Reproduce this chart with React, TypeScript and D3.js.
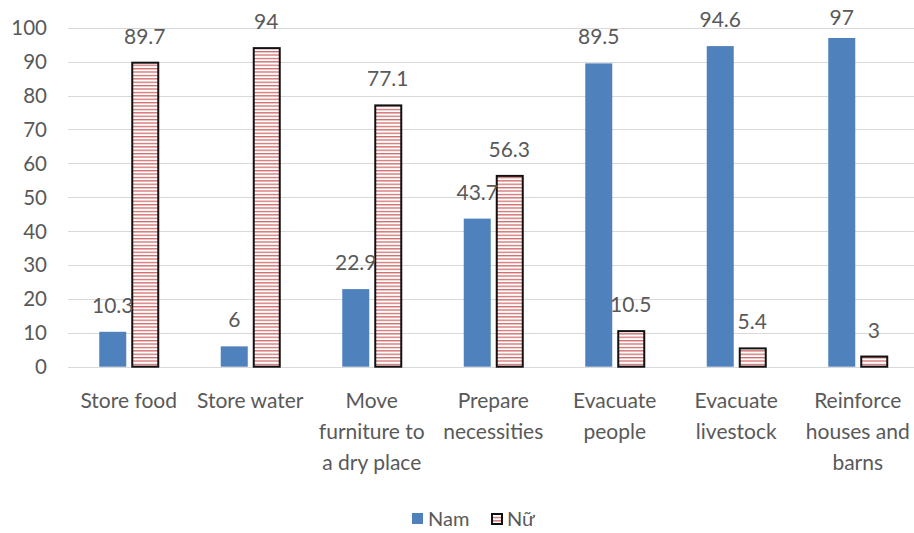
import React, { useEffect, useRef } from 'react';
import * as d3 from 'd3';

// categories (multi-line labels split with |)
const categories = [
  'Store food',
  'Store water',
  'Move|furniture to|a dry place',
  'Prepare|necessities',
  'Evacuate|people',
  'Evacuate|livestock',
  'Reinforce|houses and|barns',
];
const namValues = [10.3, 6, 22.9, 43.7, 89.5, 94.6, 97];
const nuValues = [89.7, 94, 77.1, 56.3, 10.5, 5.4, 3];
const yTicks = [0, 10, 20, 30, 40, 50, 60, 70, 80, 90, 100];
const seriesNames = ['Nam', 'Nữ'];

const width = 914;
const height = 533;
const font = 'Lato, "Open Sans", sans-serif';
const textColor = '#595959';

function Chart() {
  const ref = useRef<SVGSVGElement>(null);

  useEffect(() => {
    if (!ref.current) return;
    const svg = d3.select(ref.current);
    svg.selectAll('*').remove();

    const left = 68;
    const bandW = 121.5;
    const x = d3.scaleBand<number>()
      .domain(d3.range(categories.length))
      .range([left, left + bandW * categories.length])
      .paddingInner(0)
      .paddingOuter(0);
    const y = d3.scaleLinear().domain([0, 100]).range([366.7, 27.8]);

    const defs = svg.append('defs');
    const pat = defs.append('pattern')
      .attr('id', 'hatch')
      .attr('patternUnits', 'userSpaceOnUse')
      .attr('width', 8)
      .attr('height', 3.4);
    pat.append('rect').attr('width', 8).attr('height', 3.4).attr('fill', '#fff');
    pat.append('rect').attr('y', 0).attr('width', 8).attr('height', 1.3).attr('fill', '#d36a6a');

    // gridlines
    svg.append('g')
      .selectAll('line')
      .data(yTicks)
      .enter()
      .append('line')
      .attr('x1', left)
      .attr('x2', width)
      .attr('y1', (d) => Math.round(y(d)) + 0.5)
      .attr('y2', (d) => Math.round(y(d)) + 0.5)
      .style('stroke', '#d9d9d9')
      .style('stroke-width', 1);

    // y tick labels
    svg.append('g')
      .selectAll('text')
      .data(yTicks)
      .enter()
      .append('text')
      .attr('x', 47)
      .attr('y', (d) => y(d))
      .attr('dy', '0.36em')
      .attr('text-anchor', 'end')
      .style('font-family', font)
      .style('font-size', '20.5px')
      .style('fill', textColor)
      .text((d) => d);

    const barW = 27;
    const gap = 5;
    const groupW = barW * 2 + gap;

    const groups = svg.append('g')
      .selectAll('g')
      .data(categories.map((c, i) => i))
      .enter()
      .append('g')
      .attr('transform', (i) => `translate(${x(i)! + bandW / 2 - groupW / 2},0)`);

    // Nam bars
    groups.append('rect')
      .attr('x', 0)
      .attr('y', (i) => y(namValues[i]))
      .attr('width', barW)
      .attr('height', (i) => y(0) - y(namValues[i]))
      .attr('fill', '#4f81bd');

    // Nữ bars
    groups.append('rect')
      .attr('x', barW + gap + 1)
      .attr('y', (i) => y(nuValues[i]))
      .attr('width', barW - 1)
      .attr('height', (i) => y(0) - y(nuValues[i]))
      .attr('fill', 'url(#hatch)')
      .attr('stroke', '#111')
      .attr('stroke-width', 2);

    const labelY = (v: number) => Math.max(y(v) - 19, 25);

    groups.append('text')
      .attr('x', barW / 2)
      .attr('y', (i) => labelY(namValues[i]))
      .attr('text-anchor', 'middle')
      .style('font-family', font)
      .style('font-size', '21px')
      .style('fill', textColor)
      .text((i) => namValues[i]);

    groups.append('text')
      .attr('x', barW + gap + barW / 2)
      .attr('y', (i) => labelY(nuValues[i]))
      .attr('text-anchor', 'middle')
      .style('font-family', font)
      .style('font-size', '21px')
      .style('fill', textColor)
      .text((i) => nuValues[i]);

    // category labels
    const catText = svg.append('g')
      .selectAll('text')
      .data(categories.map((c, i) => i))
      .enter()
      .append('text')
      .attr('text-anchor', 'middle')
      .style('font-family', font)
      .style('font-size', '21px')
      .style('fill', textColor);
    catText.each(function (i) {
      const t = d3.select(this);
      categories[i].split('|').forEach((line, k) => {
        t.append('tspan')
          .attr('x', x(i)! + bandW / 2)
          .attr('y', 408 + k * 31)
          .text(line);
      });
    });

    // legend
    const lg = svg.append('g');
    lg.append('rect').attr('x', 412).attr('y', 513).attr('width', 11).attr('height', 11).attr('fill', '#4f81bd');
    lg.append('text').attr('x', 428).attr('y', 519).attr('dy', '0.36em')
      .style('font-family', font).style('font-size', '20px').style('fill', textColor).text(seriesNames[0]);
    lg.append('rect').attr('x', 492).attr('y', 514).attr('width', 10).attr('height', 10)
      .attr('fill', 'url(#hatch)').attr('stroke', '#111').attr('stroke-width', 2);
    lg.append('text').attr('x', 507).attr('y', 519).attr('dy', '0.36em')
      .style('font-family', font).style('font-size', '20px').style('fill', textColor).text(seriesNames[1]);
  }, []);

  return <svg ref={ref} width={width} height={height} style={{ display: 'block' }}></svg>;
}

export default function App() {
  return (
    <div style={{ position: 'fixed', left: 0, top: 0, width, height, background: '#fff' }}>
      <Chart />
    </div>
  );
}
